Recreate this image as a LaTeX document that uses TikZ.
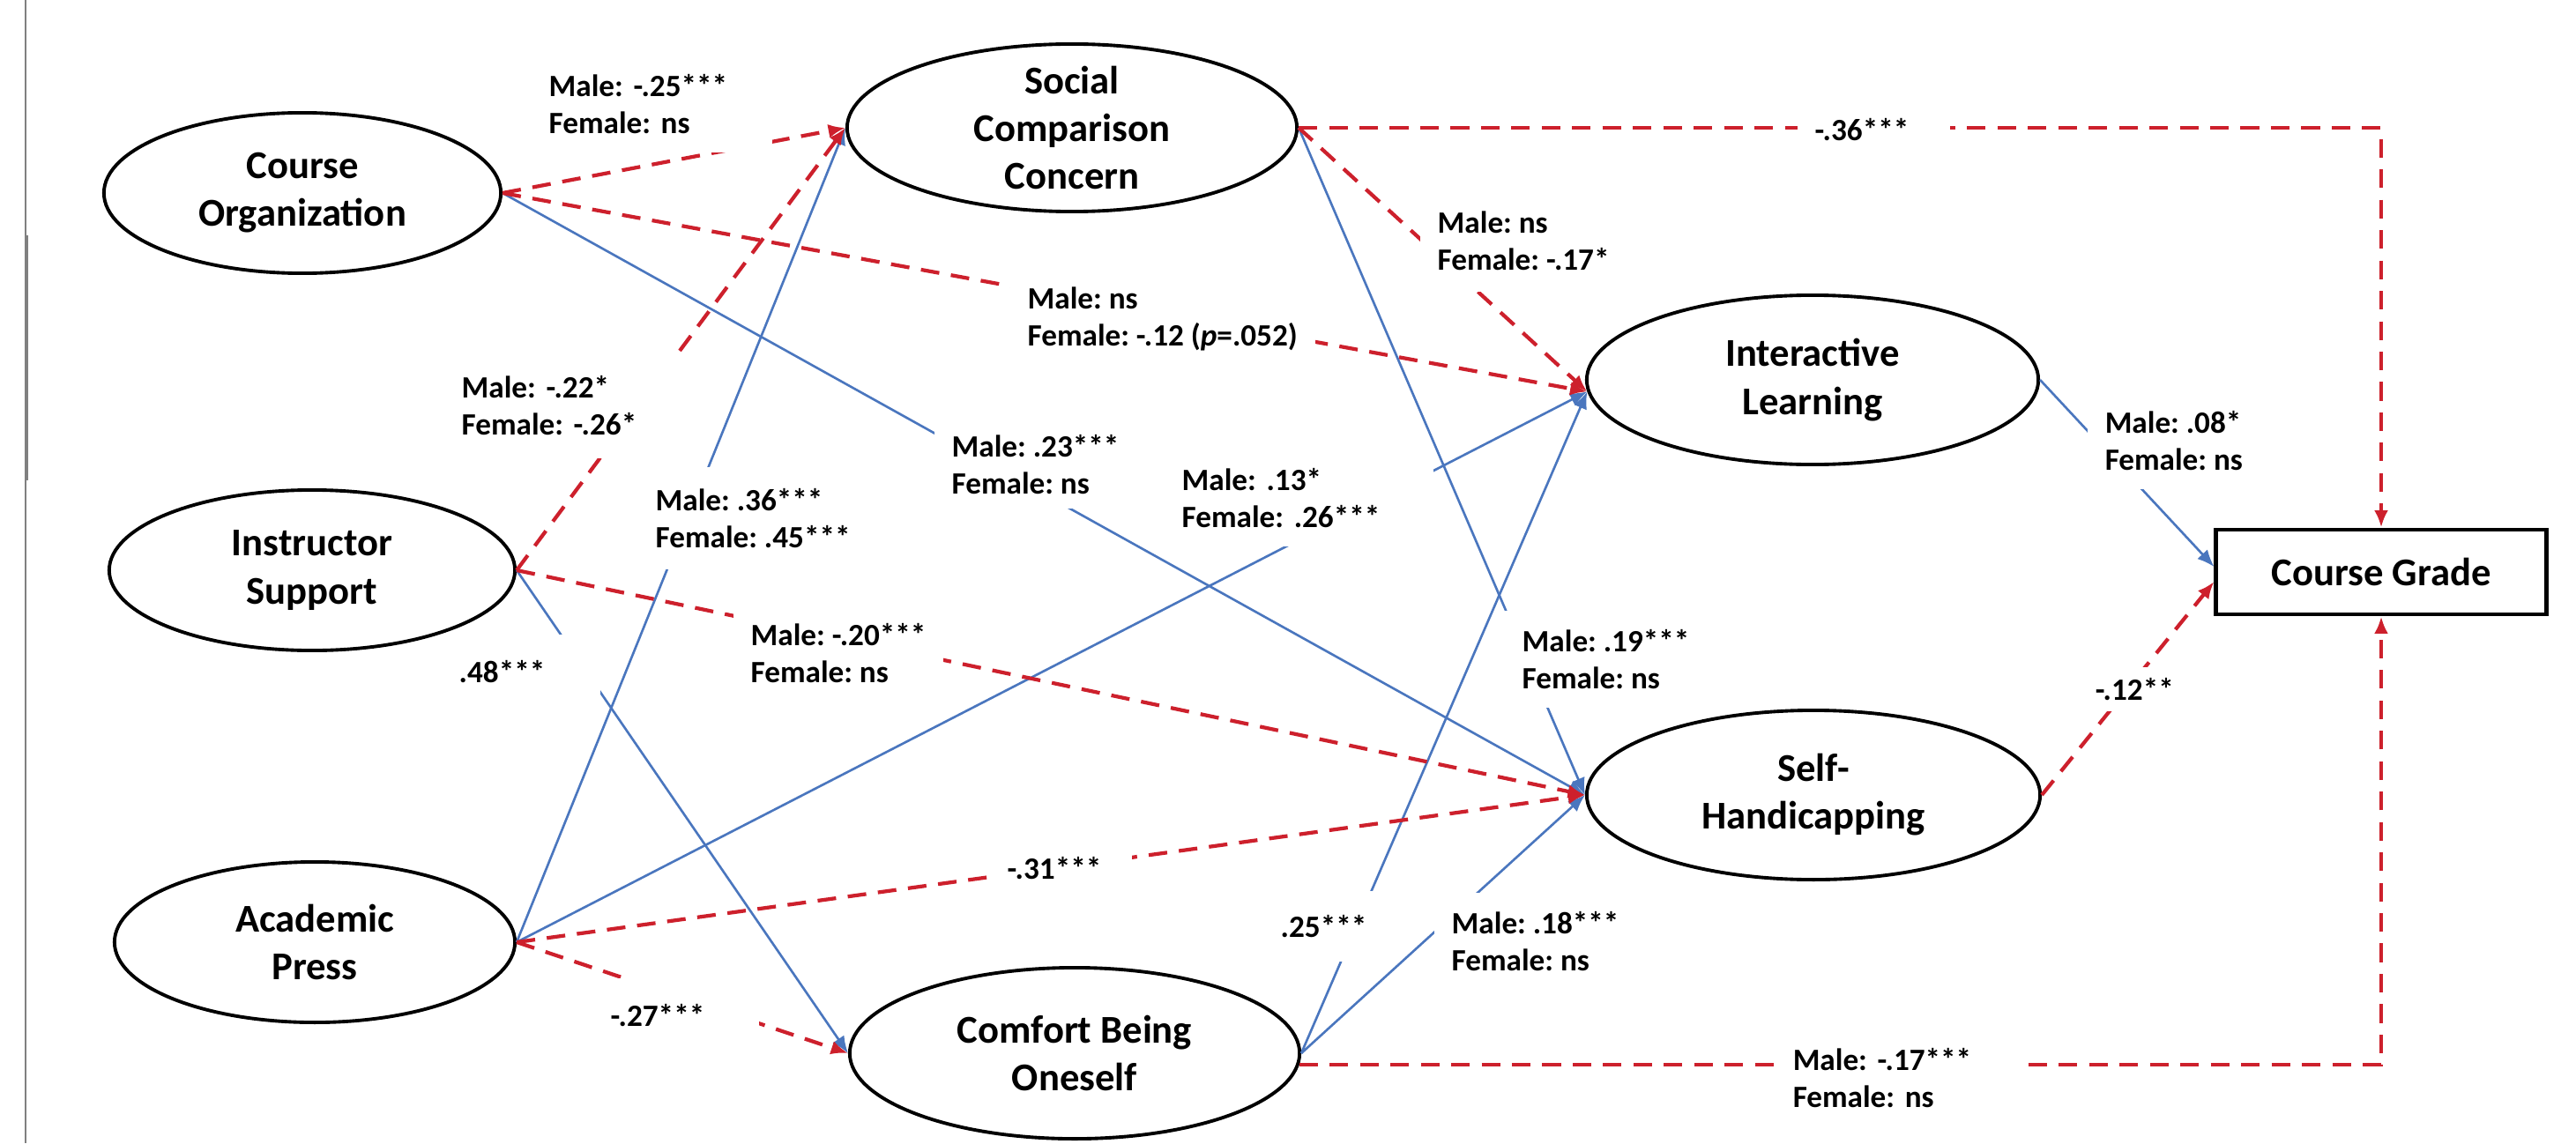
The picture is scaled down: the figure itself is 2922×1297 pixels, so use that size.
\documentclass[tikz,border=0pt]{standalone}
\usepackage{fontspec}
\setmainfont{Carlito}
\usetikzlibrary{arrows.meta, shapes.geometric}
\definecolor{pathblue}{RGB}{74,118,190}
\definecolor{pathred}{RGB}{205,32,44}
\frenchspacing
\newcommand{\ellfont}{\fontsize{12.7}{15.4}\selectfont\bfseries}
\newcommand{\labfont}{\fontsize{10}{12}\selectfont\bfseries}
\begin{document}
\begin{tikzpicture}[>={Latex[length=5.5pt,width=4.5pt]}, x=0.01cm, y=-0.01cm,
    latent/.style={draw, ellipse, line width=1.1pt, inner sep=0pt, align=center, font=\ellfont},
    posarr/.style={->, draw=pathblue, line width=0.75pt},
    negarr/.style={->, draw=pathred, line width=1.2pt, dash pattern=on 6pt off 3.8pt},
    coef/.style={fill=white, inner xsep=0.2cm, inner ysep=0.12cm, align=left, anchor=west, font=\labfont}]
    \useasboundingbox (0,0) rectangle (2922,1297);
    % Đường viền trái
    \draw[gray, line width=0.6pt] (29,0) -- (29,1297);
    \draw[gray, line width=1.3pt] (30,267) -- (30,545);

    % Các biến
    \node[latent, minimum width=4.5cm, minimum height=1.82cm] (co) at (343,219) {Course\\Organization};
    \node[latent, minimum width=4.6cm, minimum height=1.82cm] (is) at (354,647) {Instructor\\Support};
    \node[latent, minimum width=4.54cm, minimum height=1.82cm] (ap) at (357,1069) {Academic\\Press};
    \node[latent, minimum width=5.1cm, minimum height=1.9cm, inner ysep=-2pt] (scc) at (1216,145) {Social\\Comparison\\Concern};
    \node[latent, minimum width=5.1cm, minimum height=1.94cm] (cbo) at (1219,1195) {Comfort Being\\Oneself};
    \node[latent, minimum width=5.12cm, minimum height=1.92cm] (il) at (2056,431) {Interactive\\Learning};
    \node[latent, minimum width=5.14cm, minimum height=1.92cm] (sh) at (2057,902) {Self-\\Handicapping};
    \node[draw, line width=1.4pt, minimum width=3.74cm, minimum height=0.96cm, font=\ellfont] (cg) at (2701,649) {Course Grade};

    % Đường dương
    \foreach \a/\b in {co.east/sh.west, ap.east/scc.west, is.east/cbo.west, ap.east/il.183,
                       scc.east/sh.west, cbo.east/il.183, cbo.east/sh.west} {
        \draw[posarr] (\a) -- (\b);
    }
    \draw[posarr] (il.east) -- ([yshift=0.06cm]cg.west);

    % Đường âm
    \foreach \a/\b in {co.east/scc.west, co.east/il.183, is.east/scc.west, is.east/sh.west,
                       ap.east/sh.west, ap.east/cbo.west, scc.east/il.183} {
        \draw[negarr] (\a) -- (\b);
    }
    \draw[negarr] (sh.east) -- ([yshift=-0.11cm]cg.west);
    \draw[negarr] (scc.east) -| (cg.north);
    \draw[negarr] (cbo.-3) -| (cg.south);

    % Hệ số
    \node[coef, text width=2.33cm, minimum height=1.1cm] (c-co-scc) at (602,118) {Male: -.25***\\Female: ns};
    \node[coef] (c-co-il) at (1145,362) {Male: ns\\Female: -.12 (\textit{p}=.052)};
    \node[coef, text width=2.27cm, minimum height=1.2cm] (c-is-scc) at (503,460) {Male: -.22*\\Female: -.26*};
    \node[coef, minimum height=1.15cm] (c-ap-scc) at (723,588) {Male: .36***\\Female: .45***};
    \node[coef, minimum height=1.0cm] (c-co-sh) at (1059,527) {Male: .23***\\Female: ns};
    \node[coef, text width=2.65cm, minimum height=1.1cm] (c-ap-il) at (1320,565) {Male: .13*\\Female: .26***};
    \node[coef, text width=1.4cm, minimum height=0.84cm] (c-is-cbo) at (500,762) {.48***};
    \node[coef, minimum height=0.95cm] (c-is-sh) at (831,741) {Male: -.20***\\Female: ns};
    \node[coef, minimum height=1.1cm] (c-scc-sh) at (1706,748) {Male: .19***\\Female: ns};
    \node[coef, text width=1.0cm, minimum height=0.8cm] (c-cbo-il) at (1432,1051) {.25***};
    \node[coef, minimum height=1.1cm] (c-cbo-sh) at (1626,1068) {Male: .18***\\Female: ns};
    \node[coef, text width=1.21cm] (c-ap-sh) at (1122,985) {-.31***};
    \node[coef, text width=1.48cm, minimum height=0.84cm] (c-ap-cbo) at (672,1152) {-.27***};
    \node[coef, minimum height=1.15cm] (c-scc-il) at (1610,273) {Male: ns\\Female: -.17*};
    \node[coef, text width=1.33cm] (c-scc-cg) at (2038,147) {-.36***};
    \node[coef, minimum height=1.1cm] (c-il-cg) at (2367,500) {Male: .08*\\Female: ns};
    \node[coef, minimum height=0.5cm] (c-sh-cg) at (2356,782) {-.12**};
    \node[coef, text width=2.41cm] (c-cbo-cg) at (2013,1223) {Male: -.17***\\Female: ns};
\end{tikzpicture}
\end{document}
